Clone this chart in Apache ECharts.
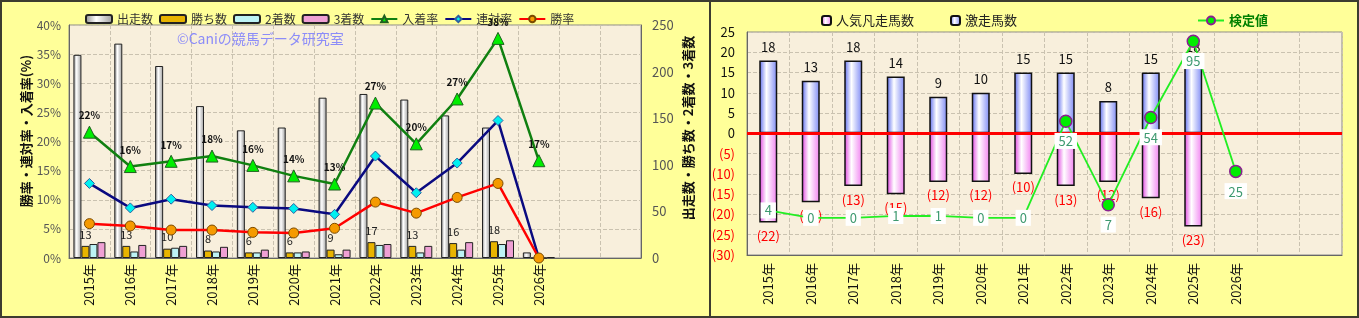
<!DOCTYPE html>
<html><head><meta charset="utf-8">
<script src="https://cdn.jsdelivr.net/npm/echarts@6/dist/echarts.min.js"></script>
<style>html,body{margin:0;padding:0;background:#FFFF99;}#c{width:1359px;height:318px;}</style>
</head><body><div id="c"></div>
<script>
// ---- data ----
const categories = ['2015年','2016年','2017年','2018年','2019年','2020年','2021年','2022年','2023年','2024年','2025年','2026年','',''];
const starters  = [218,230,206,163,137,140,172,176,170,153,140,6];
const wins      = [13,13,10,8,6,6,9,17,13,16,18,0];
const seconds   = [15,7,11,7,6,6,4,14,6,9,15,0];
const thirds    = [17,14,13,12,9,7,9,15,13,17,19,1];
const showRate  = [21.6,15.7,16.6,17.5,15.9,14.1,12.7,26.6,19.6,27.3,37.7,16.7];
const quinellaRate = [12.8,8.6,10.1,9.0,8.7,8.5,7.5,17.5,11.2,16.3,23.6,0];
const winRate   = [5.9,5.5,4.8,4.8,4.4,4.3,5.1,9.6,7.7,10.4,12.8,0];
const leftTicksPct = [0,5,10,15,20,25,30,35,40];
const hotRunners = [18,13,18,14,9,10,15,15,8,15,18];
const favFlops   = [22,17,13,15,12,12,10,13,12,16,23];
const testValues = [4,0,0,1,1,0,0,52,7,54,95,25];

const FONT = "'Noto Sans CJK JP','Noto Sans',sans-serif";
const grad = (c1,c2,c3) => ({type:'linear',x:0,y:0,x2:1,y2:0,colorStops:[{offset:0,color:c1},{offset:0.4,color:c2},{offset:1,color:c3}]});
const gridLine = {show:true,lineStyle:{color:'#CAC2B0',type:'dashed',width:1}};

const chart = echarts.init(document.getElementById('c'));
chart.setOption({
  backgroundColor:'#FFFF99',
  textStyle:{fontFamily:FONT},
  animation:false,
  legend:[
    {left:80,top:8,itemWidth:26,itemHeight:8,itemGap:6,textStyle:{fontSize:12,color:'#333',fontFamily:FONT},
     data:['出走数','勝ち数','2着数','3着数','入着率','連対率','勝率']},
    {left:816,top:9,itemWidth:9,itemHeight:9,itemGap:36,textStyle:{fontSize:13,color:'#222',fontFamily:FONT},
     data:['人気凡走馬数','激走馬数']},
    {left:1192,top:9,itemWidth:26,itemHeight:10,textStyle:{fontSize:13,color:'#008000',fontWeight:'bold',fontFamily:FONT},
     data:['検定値']}
  ],
  grid:[
    {left:69,top:25,width:572,height:233,show:true,backgroundColor:'#F8EFDC',borderColor:'#8a8a8a',borderWidth:1},
    {left:747,top:32,width:595,height:223,show:true,backgroundColor:'#F8EFDC',borderColor:'#8a8a8a',borderWidth:1}
  ],
  xAxis:[
    {type:'category',gridIndex:0,data:categories,axisTick:{show:false},axisLine:{lineStyle:{color:'#666'}},
     axisLabel:{rotate:90,fontSize:13,color:'#111',margin:6,fontFamily:FONT},splitLine:gridLine},
    {type:'category',gridIndex:1,data:categories,axisTick:{show:false},axisLine:{onZero:false,lineStyle:{color:'#666'}},
     axisLabel:{rotate:90,fontSize:13,color:'#111',margin:8,fontFamily:FONT},splitLine:gridLine}
  ],
  yAxis:[
    {type:'value',gridIndex:0,min:leftTicksPct[0],max:leftTicksPct[leftTicksPct.length-1],interval:5,
     axisLine:{show:true,lineStyle:{color:'#666'}},axisTick:{show:false},
     axisLabel:{formatter:'{value}%',fontSize:12,color:'#555',margin:8},splitLine:gridLine},
    {type:'value',gridIndex:0,min:0,max:250,interval:50,position:'right',
     axisLine:{show:true,lineStyle:{color:'#666'}},axisTick:{show:false},
     axisLabel:{fontSize:13,color:'#555',margin:11},splitLine:{show:false}},
    {type:'value',gridIndex:1,min:-30,max:25,interval:5,
     axisLine:{show:true,lineStyle:{color:'#666'}},axisTick:{show:false},
     axisLabel:{fontSize:13,margin:12,formatter:v=>v<0?'{n|('+(-v)+')}':'{p|'+v+'}',
       rich:{n:{color:'#FF0000',fontSize:13},p:{color:'#111',fontSize:13}}},splitLine:gridLine},
    {type:'value',gridIndex:1,min:-20,max:100,show:false,splitLine:{show:false}}
  ],
  series:[
    {name:'出走数',type:'bar',xAxisIndex:0,yAxisIndex:1,data:starters,barWidth:8,barGap:'0%',
     itemStyle:{color:grad('#8a8a8a','#ffffff','#9a9a9a'),borderColor:'#222',borderWidth:1}},
    {name:'勝ち数',type:'bar',xAxisIndex:0,yAxisIndex:1,data:wins,barWidth:8,barGap:'0%',
     itemStyle:{color:'#E8B400',borderColor:'#222',borderWidth:1},
     label:{show:true,position:'top',distance:6,fontSize:11,color:'#222',formatter:p=>p.value?p.value:''}},
    {name:'2着数',type:'bar',xAxisIndex:0,yAxisIndex:1,data:seconds,barWidth:8,barGap:'0%',
     itemStyle:{color:'#BDF3F5',borderColor:'#222',borderWidth:1}},
    {name:'3着数',type:'bar',xAxisIndex:0,yAxisIndex:1,data:thirds,barWidth:8,barGap:'0%',
     itemStyle:{color:'#EFA0D4',borderColor:'#222',borderWidth:1}},
    {name:'入着率',type:'line',xAxisIndex:0,yAxisIndex:0,data:showRate,z:5,
     lineStyle:{color:'#108010',width:2.5},symbol:'triangle',symbolSize:12,
     itemStyle:{color:'#00EE00',borderColor:'#206020',borderWidth:1},
     label:{show:true,position:'top',distance:5,fontSize:10,fontWeight:'bold',color:'#111',formatter:p=>Math.round(p.value)+'%'}},
    {name:'連対率',type:'line',xAxisIndex:0,yAxisIndex:0,data:quinellaRate,z:5,
     lineStyle:{color:'#0A0A80',width:2.5},symbol:'diamond',symbolSize:10,
     itemStyle:{color:'#00F0F0',borderColor:'#3060a0',borderWidth:1}},
    {name:'勝率',type:'line',xAxisIndex:0,yAxisIndex:0,data:winRate,z:5,
     lineStyle:{color:'#FF0000',width:2.5},symbol:'circle',symbolSize:10,
     itemStyle:{color:'#F59A00',borderColor:'#7a4a00',borderWidth:1}},

    {name:'人気凡走馬数',type:'bar',xAxisIndex:1,yAxisIndex:2,data:favFlops.map(v=>-v),barWidth:18,barGap:'-100%',
     itemStyle:{color:grad('#E040E0','#FFFFFF','#F080F0'),borderColor:'#111',borderWidth:1.5},
     label:{show:true,position:'bottom',distance:7,fontSize:13,color:'#FF0000',formatter:p=>'('+(-p.value)+')'}},
    {name:'激走馬数',type:'bar',xAxisIndex:1,yAxisIndex:2,data:hotRunners,barWidth:18,barGap:'-100%',
     itemStyle:{color:grad('#5868EE','#FFFFFF','#7C88F4'),borderColor:'#111',borderWidth:1.5},
     label:{show:true,position:'top',distance:7,fontSize:13,color:'#111'},
     markLine:{silent:true,symbol:'none',label:{show:false},lineStyle:{color:'#FF0000',width:3,type:'solid'},data:[{yAxis:0}]}},
    {name:'検定値',type:'line',xAxisIndex:1,yAxisIndex:3,z:6,
     data:testValues.map(v=>({value:v,label:{position:v<5?'inside':'bottom'}})),
     lineStyle:{color:'#22EE22',width:1.8},symbol:'circle',symbolSize:12,
     itemStyle:{color:'#00EE00',borderColor:'#8A2090',borderWidth:1.5},
     label:{show:true,distance:5,fontSize:13,color:'#3E9A70',backgroundColor:'#FFFFFF',padding:[2,4,1,4]}}
  ],
  graphic:[
    {type:'text',x:26,y:131,rotation:Math.PI/2,z:10,style:{text:'勝率・連対率・入着率(%)',align:'center',verticalAlign:'middle',fontSize:13,fontWeight:'bold',fill:'#111',fontFamily:FONT}},
    {type:'text',x:688,y:128,rotation:Math.PI/2,z:10,style:{text:'出走数・勝ち数・2着数・3着数',align:'center',verticalAlign:'middle',fontSize:13,fontWeight:'bold',fill:'#111',fontFamily:FONT}},
    {type:'text',x:177,y:32,z:10,style:{text:'©Caniの競馬データ研究室',fontSize:14,fill:'#8C8CF8',fontFamily:FONT}},
    {type:'rect',z:20,shape:{x:1,y:1,width:1357,height:316},style:{fill:'none',stroke:'#3c3c30',lineWidth:2}},
    {type:'line',z:20,shape:{x1:710,y1:0,x2:710,y2:318},style:{stroke:'#3c3c30',lineWidth:2}}
  ]
});
</script></body></html>
